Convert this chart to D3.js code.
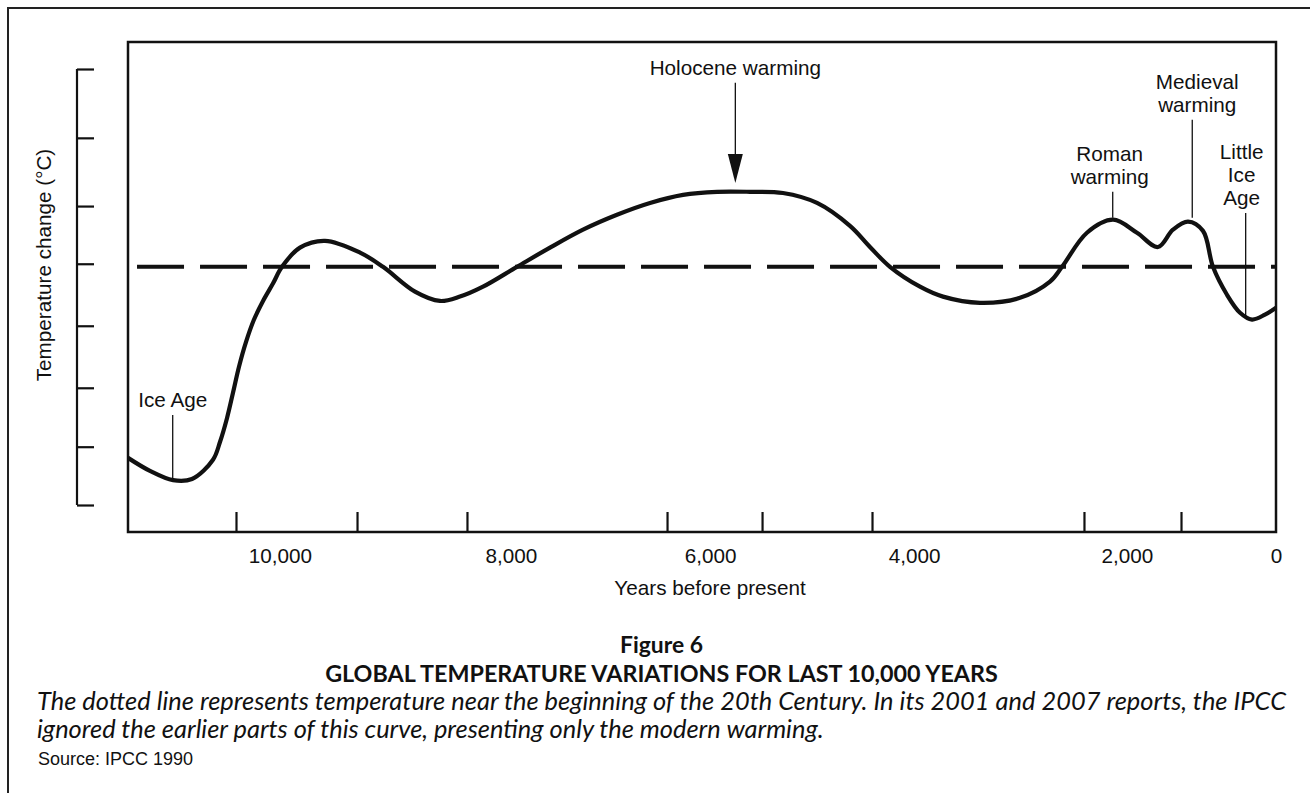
<!DOCTYPE html>
<html>
<head>
<meta charset="utf-8">
<script src="https://cdn.jsdelivr.net/npm/d3@7"></script>
<style>
  html, body { margin: 0; padding: 0; background: #fff; }
  svg { display: block; }
  .chart text { font-family: "Liberation Sans", Arial, Helvetica, sans-serif; font-size: 20.7px; fill: #111; }
  .caption text { font-family: Lato, "Open Sans", sans-serif; fill: #111; }
</style>
</head>
<body>
<svg id="fig" width="1310" height="793"></svg>
<script>
//
// Data (read off the IPCC 1990 schematic, 0 = the dashed line)
//

// curve, years before present
const curveYears = [11316, 11126, 10926, 10762, 10580, 10519, 10459, 10407, 10355, 10294,
  10225, 10147, 10061, 9983, 9827, 9610, 9307, 9108, 8831, 8615,
  8442, 8242, 7940, 7608, 7276, 6935, 6603, 6271, 5931, 5608,
  5285, 4951, 4628, 4432, 4236, 3944, 3728, 3380, 3005, 2723,
  2610, 2376, 2131, 1866, 1584, 1383, 1181, 980, 846, 658,
  483, 322, 148, 0]
// curve, temperature change (one unit = one y tick)
const curveTemps = [-3.08, -3.29, -3.44, -3.42, -3.11, -2.82, -2.44, -2.03, -1.61, -1.21,
  -0.85, -0.55, -0.27, 0, 0.31, 0.42, 0.23, 0, -0.40, -0.55,
  -0.48, -0.32, 0, 0.31, 0.60, 0.84, 1.03, 1.16, 1.21, 1.21,
  1.19, 1.03, 0.66, 0.32, 0, -0.32, -0.48, -0.58, -0.50, -0.24,
  0, 0.55, 0.76, 0.55, 0.32, 0.60, 0.73, 0.58, 0, -0.45,
  -0.74, -0.85, -0.77, -0.66]

// dashed reference line (early 20th century)
const refYears = [11238, 0]
const refTemps = [0, 0]

// axes (the drawn axis is not uniform, so labels and ticks sit apart)
const xLabelYears = [10000, 8000, 6000, 4000, 2000, 0]
const xLabelText = ['10,000', '8,000', '6,000', '4,000', '2,000', '0']
const xTickYears = [10381, 9333, 8381, 6432, 5490, 4412, 2404, 1275]
const yTickTemps = [3.19, 2.08, 0.98, 0.05, -0.95, -1.95, -2.90, -3.84]

// annotations
const annoLabels = [['Ice Age'], ['Holocene warming'], ['Roman', 'warming'], ['Medieval', 'warming'], ['Little', 'Ice', 'Age']]
const annoYears = [10929, 5752, 2134, 1124, 407]
const annoTop = [-2.39, 2.97, 1.21, 2.37, 0.87]
const annoBottom = [-3.44, 1.35, 0.79, 0.79, -0.81]

const figNumber = 'Figure 6'
const figTitle = 'GLOBAL TEMPERATURE VARIATIONS FOR LAST 10,000 YEARS'
const figNote = [
  'The dotted line represents temperature near the beginning of the 20th Century. In its 2001 and 2007 reports, the IPCC',
  'ignored the earlier parts of this curve, presenting only the modern warming.'
]
const figSource = 'Source: IPCC 1990'

//
// Layout
//

const box = { left: 128, top: 42, right: 1276, bottom: 532 }
const boxW = box.right - box.left
// where each year label sits along the box, as a share of its width
const labelFrac = [0.1324, 0.3336, 0.5070, 0.6847, 0.8702, 1]

const svg = d3.select('#fig')
const chart = svg.append('g').attr('class', 'chart')

// piecewise scale, the hand drawn axis is stretched unevenly
const x = d3.scaleLinear()
  .domain(xLabelYears)
  .range(labelFrac.map((f) => box.left + f * boxW))

const y = d3.scaleLinear().domain([-3.84, 3.19]).range([505, 69])

// outer frame (top and left only, the rest runs off the page)
svg.append('path')
  .attr('d', 'M8,793V8H1310')
  .attr('fill', 'none')
  .attr('stroke', '#222')
  .attr('stroke-width', 2)

// plot box
chart.append('rect')
  .attr('x', box.left).attr('y', box.top)
  .attr('width', boxW).attr('height', box.bottom - box.top)
  .attr('fill', 'none')
  .attr('stroke', '#111')
  .attr('stroke-width', 2.5)

// x ticks, pointing up into the box
chart.append('g')
  .attr('transform', `translate(0,${box.bottom})`)
  .call(d3.axisBottom(x).tickValues(xTickYears).tickSize(-20).tickFormat(''))
  .call((g) => g.select('.domain').remove())
  .call((g) => g.selectAll('.tick line').attr('stroke', '#111').attr('stroke-width', 2.2))

// x labels
chart.append('g')
  .attr('transform', `translate(0,${box.bottom})`)
  .call(d3.axisBottom(x).tickValues(xLabelYears).tickSize(0).tickPadding(0)
    .tickFormat((d, i) => xLabelText[i]))
  .call((g) => g.select('.domain').remove())
  .call((g) => g.selectAll('.tick text')
    .attr('y', 31).attr('dy', null)
    .attr('font-family', null).attr('font-size', null))

chart.append('text')
  .attr('x', 710).attr('y', 595)
  .attr('text-anchor', 'middle')
  .text('Years before present')

// y axis, floating left of the box, no labels
chart.append('g')
  .attr('transform', 'translate(77,0)')
  .call(d3.axisRight(y).tickValues(yTickTemps).tickSize(17).tickSizeOuter(0).tickFormat(''))
  .call((g) => g.select('.domain').attr('stroke', '#111').attr('stroke-width', 2.2)
    .attr('d', `M0,${y(yTickTemps[0])}V${y(yTickTemps[yTickTemps.length - 1])}`))
  .call((g) => g.selectAll('.tick line').attr('stroke', '#111').attr('stroke-width', 2.2))

chart.append('text')
  .attr('transform', 'translate(50.5,265) rotate(-90)')
  .attr('text-anchor', 'middle')
  .text('Temperature change (°C)')

// dashed reference line
const line = d3.line().x((d) => x(d[0])).y((d) => y(d[1]))
chart.append('path')
  .datum(d3.zip(refYears, refTemps))
  .attr('d', line)
  .attr('fill', 'none')
  .attr('stroke', '#111')
  .attr('stroke-width', 4)
  .attr('stroke-dasharray', '47,16')

// temperature curve
chart.append('path')
  .datum(d3.zip(curveYears, curveTemps))
  .attr('d', line.curve(d3.curveCatmullRom.alpha(0.5)))
  .attr('fill', 'none')
  .attr('stroke', '#111')
  .attr('stroke-width', 4.2)
  .attr('stroke-linejoin', 'round')

// annotations
const labelDx = [0, 0, -3, 5, -4]
const lineGap = 23
annoLabels.forEach((lines, i) => {
  const ax = x(annoYears[i])
  const top = y(annoTop[i])
  const bottom = y(annoBottom[i])
  const arrow = i === 1
  chart.append('line')
    .attr('x1', ax).attr('x2', ax)
    .attr('y1', top).attr('y2', arrow ? bottom - 28 : bottom)
    .attr('stroke', '#111')
    .attr('stroke-width', 1.3)
  if (arrow) {
    chart.append('path')
      .attr('d', `M${ax - 7.5},${bottom - 29}L${ax + 7.5},${bottom - 29}L${ax},${bottom}Z`)
      .attr('fill', '#111')
  }
  const t = chart.append('text')
    .attr('text-anchor', 'middle')
  lines.forEach((s, j) => {
    t.append('tspan')
      .attr('x', ax + labelDx[i])
      .attr('y', top - 8 - (lines.length - 1 - j) * lineGap)
      .text(s)
  })
})

//
// Caption
//

function fitWidth(sel, width) {
  const w = sel.node().getComputedTextLength()
  const fs = parseFloat(sel.style('font-size'))
  sel.style('font-size', `${(fs * width) / w}px`)
}

const cap = svg.append('g').attr('class', 'caption')

cap.append('text')
  .attr('x', 661.5).attr('y', 653)
  .attr('text-anchor', 'middle')
  .style('font-weight', 700).style('font-size', '23px')
  .text(figNumber)
  .call(fitWidth, 83)

cap.append('text')
  .attr('x', 661.5).attr('y', 682)
  .attr('text-anchor', 'middle')
  .style('font-weight', 700).style('font-size', '23px')
  .text(figTitle)
  .call(fitWidth, 673)

const note2 = cap.append('text')
  .attr('x', 37).attr('y', 738)
  .style('font-style', 'italic').style('font-size', '23px')
  .text(figNote[1])
  .call(fitWidth, 787)

cap.append('text')
  .attr('x', 37).attr('y', 710)
  .style('font-style', 'italic').style('font-size', note2.style('font-size'))
  .attr('textLength', 1249).attr('lengthAdjust', 'spacing')
  .text(figNote[0])

cap.append('text')
  .attr('x', 38).attr('y', 765)
  .style('font-family', '"Liberation Sans", Arial, sans-serif')
  .style('font-size', '18px')
  .text(figSource)
</script>
</body>
</html>
